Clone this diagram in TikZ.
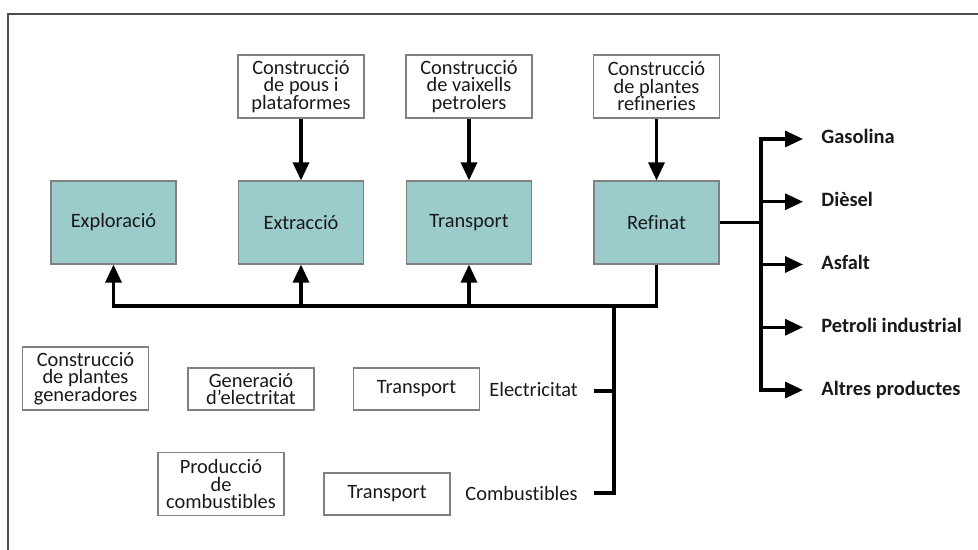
\documentclass[tikz,border=0pt]{standalone}
\usepackage{fontspec}
\setmainfont{Carlito}[Ligatures=NoCommon]
\usetikzlibrary{positioning,calc,arrows.meta}
\definecolor{stagefill}{HTML}{9BCBCB}
\definecolor{boxline}{HTML}{808080}
\definecolor{framegray}{HTML}{4D4D4D}

\begin{document}
\begin{tikzpicture}[
  x=0.5pt, y=-0.5pt,
  every node/.style={font=\fontsize{10.2}{8.75}\selectfont, text=black!90, inner sep=1pt},
  stage/.style={draw=boxline, line width=0.6pt, fill=stagefill, minimum width=62.5pt, minimum height=41.5pt},
  build/.style={draw=boxline, line width=0.6pt, align=center, minimum width=63pt, minimum height=31.5pt},
  thin/.style={build, minimum height=21pt},
  product/.style={anchor=west, font=\fontsize{10.2}{8.75}\selectfont\bfseries, text height=7pt, text depth=2pt},
  link/.style={line width=1.6pt},
  flow/.style={link, -{Triangle[length=9pt, width=8pt]}}
]
\useasboundingbox (0,0) rectangle (978,550);
\draw[framegray, line width=1pt] (8,550) -- (8,14) -- (978,14);

% main chain
\node[stage] (explor) at (113.5,222.5) {Exploració};
\node[stage] (extrac) at (301,222.5) {Extracció};
\node[stage] (transp) at (469,222.5) {Transport};
\node[stage] (refin) at (656.5,222.5) {Refinat};

% construction inputs
\node[build] (pous) at (301,86.5) {Construcció\\de pous i\\plataformes};
\node[build] (vaix) at (469,86.5) {Construcció\\de vaixells\\petrolers};
\node[build] (refcon) at (656.5,86.5) {Construcció\\de plantes\\refineries};
\foreach \a/\b in {pous/extrac, vaix/transp, refcon/refin}
  \draw[flow] (\a) -- (\b);

% feedback bus
\coordinate (bus) at (614,306);
\draw[flow] (refin.south) |- (bus) -| (explor.south);
\draw[flow] (extrac.south |- bus) -- (extrac.south);
\draw[flow] (transp.south |- bus) -- (transp.south);

% electricity and fuels
\node[build] (gener) at (85.5,378.5) {Construcció\\de plantes\\generadores};
\node[thin] (elgen) at (251,389) {Generació\\d’electritat};
\node[thin] (eltr) at (416.5,389) {Transport};
\node[anchor=west] (eltxt) at (487,389) {Electricitat};
\node[build] (fuelprod) at (221,484) {Producció\\de\\combustibles};
\node[thin] (cotr) at (387,494) {Transport};
\node[anchor=west] (cotxt) at (463,493) {Combustibles};
\coordinate (elend) at (594,391);
\coordinate (coend) at (594,493);
\draw[link] (bus) |- (coend);
\draw[link] (elend) -- (elend -| bus);

% products
\coordinate (split) at (761,222.5);
\draw[link] (refin.east) -- (split);
\foreach \t [count=\i] in {Gasolina, Dièsel, Asfalt, Petroli industrial, Altres productes} {
  \node[product] (prod\i) at (819,{139+62.75*(\i-1)}) {\t};
  \draw[flow] (split |- prod\i) -- ([xshift=-8pt]prod\i.west);
}
\draw[link, line cap=rect] (split |- prod1) -- (split |- prod5);
\end{tikzpicture}
\end{document}
